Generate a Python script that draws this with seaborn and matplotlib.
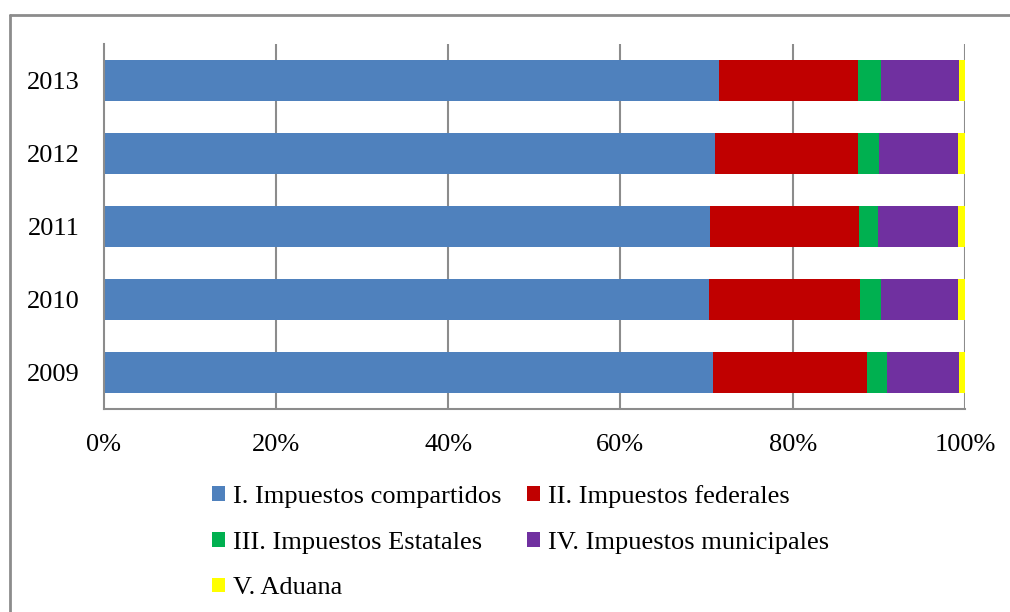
import matplotlib
matplotlib.use("Agg")
import matplotlib.pyplot as plt
from matplotlib.lines import Line2D
from matplotlib.patches import Patch
import numpy as np
import pandas as pd
import seaborn as sns

# Shares of revenue by tax category (percent of the yearly total)
years = ["2013", "2012", "2011", "2010", "2009"]
series_names = [
    "I. Impuestos compartidos",
    "II. Impuestos federales",
    "III. Impuestos Estatales",
    "IV. Impuestos municipales",
    "V. Aduana",
]
compartidos = [71.4, 71.0, 70.4, 70.25, 70.7]
federales = [16.2, 16.6, 17.3, 17.6, 17.9]
estatales = [2.6, 2.45, 2.2, 2.35, 2.3]
municipales = [9.1, 9.15, 9.3, 8.95, 8.4]
aduana = [0.7, 0.8, 0.8, 0.85, 0.7]
colors = ["#4F81BD", "#C00000", "#00B050", "#7030A0", "#FFFF00"]
x_ticks = [0, 20, 40, 60, 80, 100]
x_ticklabels = ["0%", "20%", "40%", "60%", "80%", "100%"]

values = np.array([compartidos, federales, estatales, municipales, aduana])
cumulative = np.cumsum(values, axis=0)

sns.set_theme(style="white")
plt.rcParams["font.family"] = ["Liberation Serif", "DejaVu Serif"]
plt.rcParams["text.color"] = "black"

fig = plt.figure(figsize=(10.1, 6.12), dpi=100)
ax = fig.add_axes([103.5 / 1010, 1 - 409 / 612, 861.5 / 1010, 365 / 612])

# Stacked bars: draw running totals from the largest down so each segment shows
for i in range(len(series_names) - 1, -1, -1):
    df = pd.DataFrame({"year": years, "total": cumulative[i]})
    sns.barplot(data=df, x="total", y="year", order=years, orient="h",
                color=colors[i], saturation=1, width=0.575,
                edgecolor="none", linewidth=0, ax=ax, zorder=3)

ax.set_xlim(0, 100)
ax.set_ylim(len(years) - 0.5, -0.5)
ax.set_xticks(x_ticks)
ax.set_xticklabels(x_ticklabels)
ax.set_xlabel("")
ax.set_ylabel("")

grid_color = "#8C8C8C"
for t in x_ticks[1:]:
    ax.axvline(t, color=grid_color, linewidth=1.5, zorder=1)
for side in ["top", "right"]:
    ax.spines[side].set_visible(False)
for side in ["left", "bottom"]:
    ax.spines[side].set_color(grid_color)
    ax.spines[side].set_linewidth(1.5)
    ax.spines[side].set_zorder(4)

ax.tick_params(axis="both", length=0, labelsize=19, colors="black")
ax.tick_params(axis="y", pad=17)
ax.tick_params(axis="x", pad=18)

# Legend laid out row by row in two columns
handles = [Patch(facecolor=c, edgecolor="none") for c in colors]
order = [0, 2, 4, 1, 3]
leg = fig.legend([handles[i] for i in order], [series_names[i] for i in order],
                 ncol=2, loc="upper left", bbox_to_anchor=(212 / 1010, 1 - 485 / 612),
                 frameon=False, fontsize=19, handlelength=0.48, handleheight=0.48,
                 handletextpad=0.3, columnspacing=0.98, labelspacing=0.9,
                 borderaxespad=0, borderpad=0)
for txt in leg.get_texts():
    txt.set_color("black")

# Outer chart frame (top and left edges)
fig.add_artist(Line2D([10 / 1010, 1.0], [1 - 15 / 612, 1 - 15 / 612],
                      transform=fig.transFigure, color=grid_color, linewidth=2))
fig.add_artist(Line2D([10 / 1010, 10 / 1010], [1 - 15 / 612, 0.0],
                      transform=fig.transFigure, color=grid_color, linewidth=2))

fig.savefig("out.png", dpi=100, facecolor="white")
